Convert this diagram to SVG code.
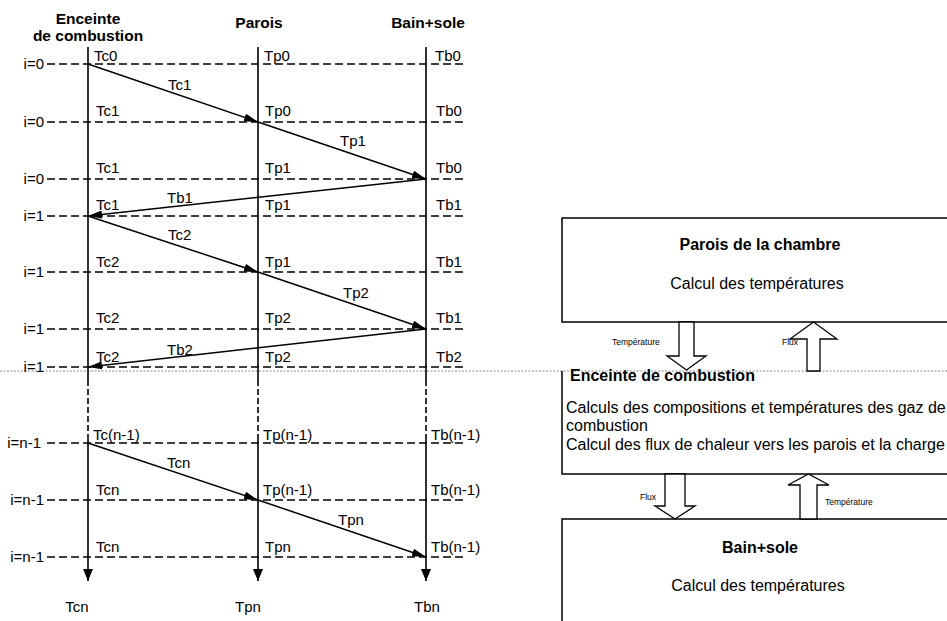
<svg xmlns="http://www.w3.org/2000/svg" width="947" height="621" viewBox="0 0 947 621">
<defs>
<style>
text{font-family:"Liberation Sans",Arial,sans-serif;fill:#000}
.h{font-size:15.5px;font-weight:bold;text-anchor:middle}
.l{font-size:15px}
.r{font-size:15px;text-anchor:end}
.life{stroke:#000;stroke-width:1.6;fill:none}
.lifed{stroke:#000;stroke-width:1.6;fill:none;stroke-dasharray:6 3}
.row{stroke:#000;stroke-width:1.4;stroke-dasharray:8 4;fill:none}
.msg{stroke:#000;stroke-width:1.5;fill:none;marker-end:url(#ah)}
.box{fill:#fff;stroke:#000;stroke-width:1.5}
.bt{font-size:16px;font-weight:bold;text-anchor:middle}
.bx{font-size:16px}
.bc{font-size:16px;text-anchor:middle}
.sm{font-size:8.5px}
.blk{fill:#fff;stroke:#000;stroke-width:1.3;stroke-linejoin:miter}
</style>
<marker id="ah" viewBox="0 0 14 8" refX="14" refY="4" markerWidth="14" markerHeight="8" markerUnits="userSpaceOnUse" orient="auto"><path d="M0,0 L14,4 L0,8 z" fill="#000"/></marker>
<marker id="ahd" viewBox="0 0 10 12" refX="5" refY="12" markerWidth="10" markerHeight="12" markerUnits="userSpaceOnUse" orient="0"><path d="M0,0 L10,0 L5,12 z" fill="#000"/></marker>
</defs>
<rect width="947" height="621" fill="#fff"/>

<!-- scan artefact dotted line across the page -->
<line x1="0" y1="371" x2="947" y2="371" stroke="#888" stroke-width="1" stroke-dasharray="2 1.5"/>

<!-- Left: sequence diagram -->
<g id="col-enceinte">
<text class="h" x="88" y="24">Enceinte</text>
<text class="h" x="88" y="41">de combustion</text>
<path class="life" d="M88,47 V380"/>
<path class="lifed" d="M88,380 V438"/>
<path class="life" d="M88,438 V581" marker-end="url(#ahd)"/>
<text class="l" x="77" y="612" text-anchor="middle">Tcn</text>
</g>
<g id="col-parois">
<text class="h" x="259" y="28">Parois</text>
<path class="life" d="M258,47 V380"/>
<path class="lifed" d="M258,380 V438"/>
<path class="life" d="M258,438 V581" marker-end="url(#ahd)"/>
<text class="l" x="248" y="612" text-anchor="middle">Tpn</text>
</g>
<g id="col-bain">
<text class="h" x="428" y="28">Bain+sole</text>
<path class="life" d="M426,47 V380"/>
<path class="lifed" d="M426,380 V438"/>
<path class="life" d="M426,438 V581" marker-end="url(#ahd)"/>
<text class="l" x="427" y="612" text-anchor="middle">Tbn</text>
</g>

<g id="rows">
<path class="row" d="M47,64 H466 M47,122 H466 M47,179 H466 M47,216 H466 M47,272 H466 M47,329 H466 M47,367 H466 M47,443 H466 M47,500 H466 M47,557 H466"/>
<text class="r" x="44" y="69">i=0</text>
<text class="r" x="44" y="127">i=0</text>
<text class="r" x="44" y="184">i=0</text>
<text class="r" x="44" y="221">i=1</text>
<text class="r" x="44" y="277">i=1</text>
<text class="r" x="44" y="334">i=1</text>
<text class="r" x="44" y="372">i=1</text>
<text class="r" x="41" y="448">i=n-1</text>
<text class="r" x="44" y="505">i=n-1</text>
<text class="r" x="44" y="562">i=n-1</text>

<text class="l" x="94" y="61">Tc0</text><text class="l" x="264" y="61">Tp0</text><text class="l" x="435" y="61">Tb0</text>
<text class="l" x="96" y="116">Tc1</text><text class="l" x="265" y="116">Tp0</text><text class="l" x="436" y="116">Tb0</text>
<text class="l" x="96" y="173">Tc1</text><text class="l" x="265" y="173">Tp1</text><text class="l" x="436" y="173">Tb0</text>
<text class="l" x="96" y="210">Tc1</text><text class="l" x="265" y="210">Tp1</text><text class="l" x="436" y="210">Tb1</text>
<text class="l" x="96" y="267">Tc2</text><text class="l" x="265" y="267">Tp1</text><text class="l" x="436" y="267">Tb1</text>
<text class="l" x="96" y="323">Tc2</text><text class="l" x="265" y="323">Tp2</text><text class="l" x="436" y="323">Tb1</text>
<text class="l" x="96" y="362">Tc2</text><text class="l" x="265" y="362">Tp2</text><text class="l" x="436" y="362">Tb2</text>
<text class="l" x="93" y="440">Tc(n-1)</text><text class="l" x="263" y="440">Tp(n-1)</text><text class="l" x="431" y="440">Tb(n-1)</text>
<text class="l" x="96" y="495">Tcn</text><text class="l" x="263" y="495">Tp(n-1)</text><text class="l" x="431" y="495">Tb(n-1)</text>
<text class="l" x="96" y="552">Tcn</text><text class="l" x="265" y="552">Tpn</text><text class="l" x="431" y="552">Tb(n-1)</text>
</g>

<g id="connectors">
<path class="msg" d="M88,64 L258,122"/>
<path class="msg" d="M258,122 L426,179"/>
<path class="msg" d="M426,179 L88,216"/>
<path class="msg" d="M88,216 L258,272"/>
<path class="msg" d="M258,272 L426,329"/>
<path class="msg" d="M426,329 L88,367"/>
<path class="msg" d="M88,443 L258,500"/>
<path class="msg" d="M258,500 L426,557"/>
<text class="l" x="168" y="90">Tc1</text>
<text class="l" x="340" y="146">Tp1</text>
<text class="l" x="167" y="203">Tb1</text>
<text class="l" x="168" y="240">Tc2</text>
<text class="l" x="343" y="298">Tp2</text>
<text class="l" x="167" y="355">Tb2</text>
<text class="l" x="167" y="468">Tcn</text>
<text class="l" x="338" y="525">Tpn</text>
</g>

<!-- Right: block diagram -->
<g id="box-parois">
<rect class="box" x="562" y="218" width="400" height="104"/>
<text class="bt" x="760" y="250">Parois de la chambre</text>
<text class="bc" x="757" y="289">Calcul des températures</text>
</g>
<g id="box-enceinte">
<path d="M562,371 V474 H960" fill="none" stroke="#000" stroke-width="1.5"/>
<text class="bx" x="570" y="381" font-weight="bold" font-size="15.5">Enceinte de combustion</text>
<text class="bx" x="566" y="413">Calculs des compositions et températures des gaz de</text>
<text class="bx" x="566" y="431">combustion</text>
<text class="bx" x="566" y="450">Calcul des flux de chaleur vers les parois et la charge</text>
</g>
<g id="box-bain">
<rect class="box" x="562" y="519" width="400" height="120"/>
<text class="bt" x="760" y="553">Bain+sole</text>
<text class="bc" x="758" y="591">Calcul des températures</text>
</g>

<g id="flows">
<polygon class="blk" points="679,322 679,356 667,356 686.5,370 706,356 694,356 694,322"/>
<text class="sm" x="612" y="345">Température</text>
<polygon class="blk" points="807,371 807,339 790,339 813.5,322 837,339 820,339 820,371"/>
<text class="sm" x="782" y="345">Flux</text>
<polygon class="blk" points="665,474 665,506 655,506 675,519 695,506 685,506 685,474"/>
<text class="sm" x="640" y="500">Flux</text>
<polygon class="blk" points="800,519 800,485 788,485 808.5,474 829,485 817,485 817,519"/>
<text class="sm" x="825" y="505">Température</text>
</g>
</svg>
